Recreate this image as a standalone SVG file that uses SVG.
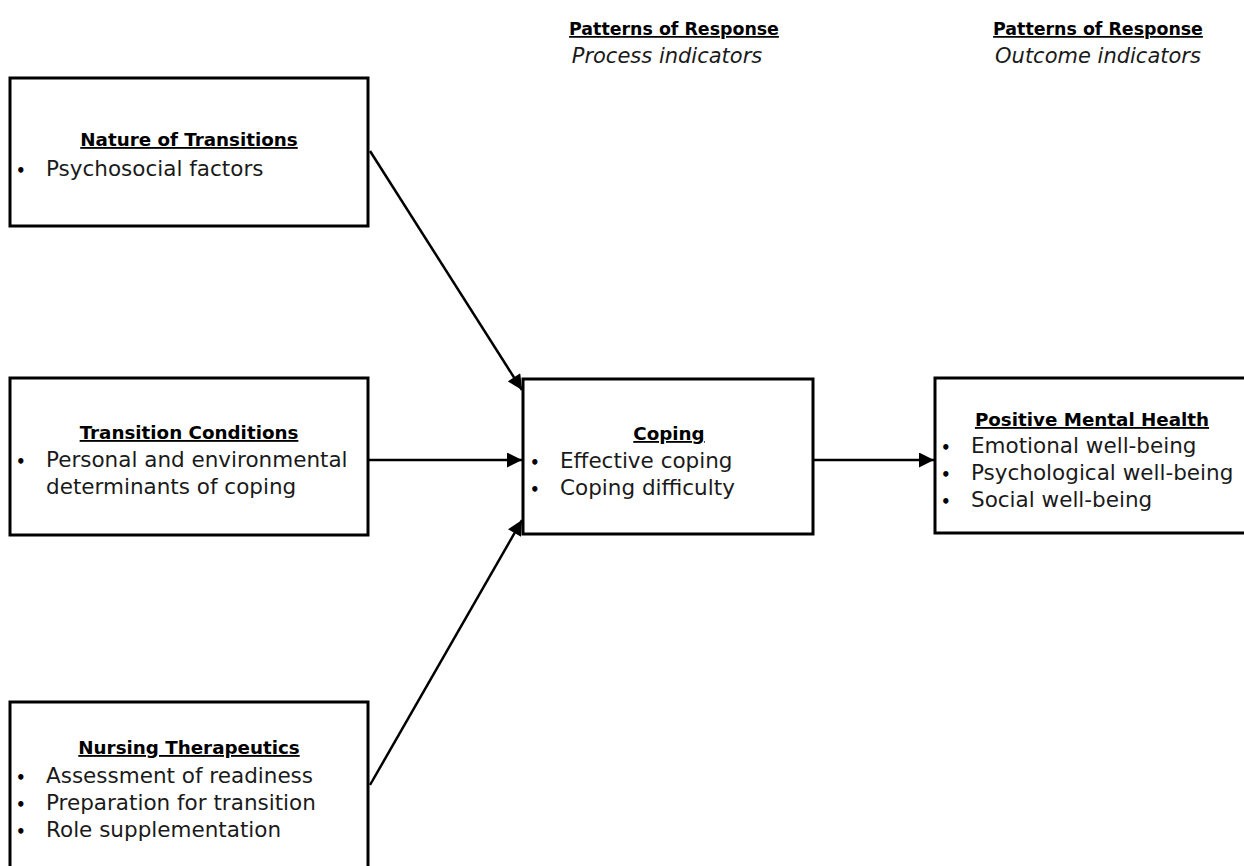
<svg xmlns="http://www.w3.org/2000/svg" width="1244" height="866" viewBox="0 0 1244 866">
<style>
.box{fill:#fff;stroke:#000;stroke-width:3}
.t{font-family:"DejaVu Sans",sans-serif;font-size:21.5px;fill:#1a1a1a}
.b{font-family:"DejaVu Sans",sans-serif;font-size:15px;font-weight:bold;fill:#000}
.h{font-family:"DejaVu Sans",sans-serif;font-size:18.3px;font-weight:bold;text-decoration:underline;fill:#000}
.h2{font-family:"DejaVu Sans",sans-serif;font-size:17.4px;font-weight:bold;text-decoration:underline;fill:#000}
.i{font-family:"DejaVu Sans",sans-serif;font-size:21px;font-style:italic;fill:#1a1a1a}
.c{stroke:#000;stroke-width:2.5;fill:none;marker-end:url(#ah)}
</style>
<defs>
<marker id="ah" viewBox="0 0 10 10" refX="10" refY="5" markerWidth="6.4" markerHeight="6" markerUnits="strokeWidth" orient="auto">
<path d="M0,0 L10,5 L0,10 Z" fill="#000"/>
</marker>
</defs>
<g id="headers">
<text class="h2" x="674" y="35" text-anchor="middle">Patterns of Response</text>
<text class="i" x="667" y="63" text-anchor="middle">Process indicators</text>
<text class="h2" x="1098" y="35" text-anchor="middle">Patterns of Response</text>
<text class="i" x="1098" y="63" text-anchor="middle">Outcome indicators</text>
</g>
<g id="nature">
<rect class="box" x="10" y="78" width="358" height="148"/>
<text class="h" x="189" y="146" text-anchor="middle">Nature of Transitions</text>
<text class="b" x="16" y="176">•</text>
<text class="t" x="46" y="176">Psychosocial factors</text>
</g>
<g id="conditions">
<rect class="box" x="10" y="378" width="358" height="157"/>
<text class="h" x="189" y="439" text-anchor="middle">Transition Conditions</text>
<text class="b" x="16" y="467">•</text>
<text class="t" x="46" y="467">Personal and environmental</text>
<text class="t" x="46" y="494">determinants of coping</text>
</g>
<g id="nursing">
<rect class="box" x="10" y="702" width="358" height="180"/>
<text class="h" x="189" y="754" text-anchor="middle">Nursing Therapeutics</text>
<text class="b" x="16" y="783">•</text>
<text class="t" x="46" y="783">Assessment of readiness</text>
<text class="b" x="16" y="810">•</text>
<text class="t" x="46" y="810">Preparation for transition</text>
<text class="b" x="16" y="837">•</text>
<text class="t" x="46" y="837">Role supplementation</text>
</g>
<g id="coping">
<rect class="box" x="523" y="379" width="290" height="155"/>
<text class="h" x="669" y="440" text-anchor="middle">Coping</text>
<text class="b" x="530" y="468">•</text>
<text class="t" x="560" y="468">Effective coping</text>
<text class="b" x="530" y="495">•</text>
<text class="t" x="560" y="495">Coping difficulty</text>
</g>
<g id="pmh">
<rect class="box" x="935" y="378" width="330" height="155"/>
<text class="h" x="1092" y="426" text-anchor="middle">Positive Mental Health</text>
<text class="b" x="941" y="453">•</text>
<text class="t" x="971" y="453">Emotional well-being</text>
<text class="b" x="941" y="480">•</text>
<text class="t" x="971" y="480">Psychological well-being</text>
<text class="b" x="941" y="507">•</text>
<text class="t" x="971" y="507">Social well-being</text>
</g>
<g id="connectors">
<line class="c" x1="370" y1="151" x2="522" y2="390"/>
<line class="c" x1="369" y1="460" x2="522" y2="460"/>
<line class="c" x1="370" y1="785" x2="522" y2="520"/>
<line class="c" x1="814" y1="460" x2="934" y2="460"/>
</g>
</svg>
